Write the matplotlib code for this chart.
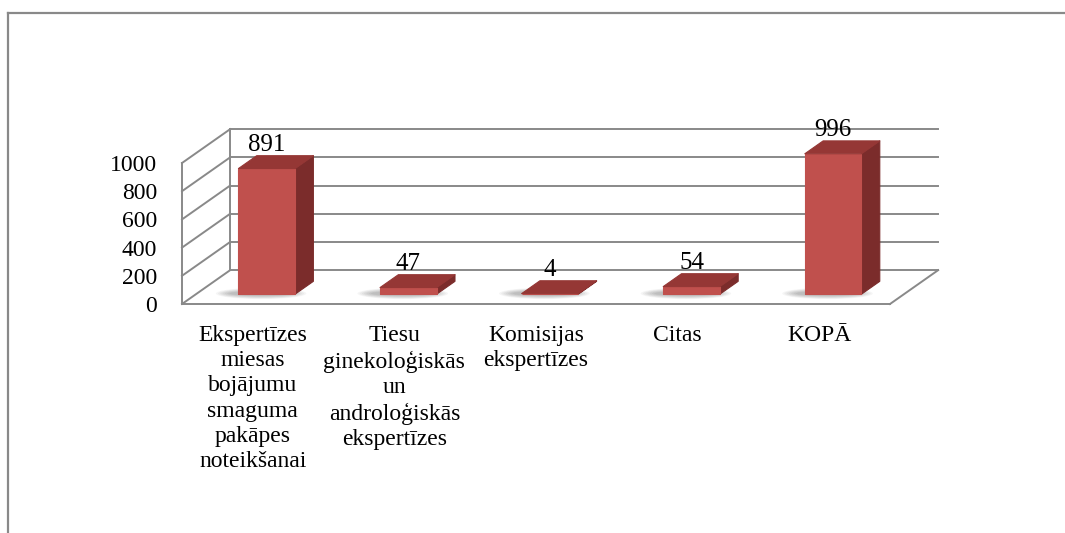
import matplotlib
matplotlib.use("Agg")
import matplotlib.pyplot as plt
from matplotlib.patches import Polygon, Rectangle, Ellipse
from matplotlib.lines import Line2D

# dati
kategorijas = [
    "Ekspertīzes\nmiesas\nbojājumu\nsmaguma\npakāpes\nnoteikšanai",
    "Tiesu\nginekoloģiskās\nun\nandroloģiskās\nekspertīzes",
    "Komisijas\nekspertīzes",
    "Citas",
    "KOPĀ",
]
vertibas = [891, 47, 4, 54, 996]
y_ticks = [0, 200, 400, 600, 800, 1000]

# izskats
FONT = "Liberation Serif"
FS = 17
GRAY = "#898989"
FRONT = "#C0504D"
SIDE = "#7B2C2B"
TOP = "#953735"
DX, DY = 0.34, 240          # "3D" dziļuma nobīde datu vienībās
BAR_W, BAR_OFF, BAR_D = 0.40, 0.29, 0.38

fig = plt.figure(figsize=(10.65, 5.33), dpi=100)
ax = fig.add_axes([182 / 1065, (533 - 304) / 533, 708 / 1065, 141 / 533])
ax.set_xlim(0, 5)
ax.set_ylim(0, 1000)
for s in ax.spines.values():
    s.set_visible(False)
ax.set_facecolor("none")

n = len(vertibas)
ymax = y_ticks[-1]

def line(xs, ys, z=1):
    ax.add_line(Line2D(xs, ys, color=GRAY, lw=1.4, clip_on=False, zorder=z))

# aizmugures siena un kreisā siena
for v in y_ticks:
    line([DX, n + DX], [v + DY, v + DY])
    line([0, DX], [v, v + DY])
line([0, 0], [0, ymax])
line([DX, DX], [DY, ymax + DY])
# grīda
line([0, n], [0, 0])
line([n, n + DX], [0, DY])

# stabiņi
for i, val in enumerate(vertibas):
    x0 = i + 0.5 - BAR_W / 2 + BAR_OFF * DX
    y0 = BAR_OFF * DY
    ddx, ddy = BAR_D * DX, BAR_D * DY
    # ēna
    for k in range(7):
        ax.add_patch(Ellipse((x0 + BAR_W * 0.4, y0 + 5), BAR_W * (1.6 - k * 0.08),
                             80 - k * 8, color="#000000", alpha=0.04,
                             lw=0, clip_on=False, zorder=2))
    ax.add_patch(Rectangle((x0, y0), BAR_W, val, facecolor=FRONT, edgecolor=FRONT,
                           lw=0.8, joinstyle="round", clip_on=False, zorder=4))
    ax.add_patch(Polygon([(x0 + BAR_W, y0), (x0 + BAR_W + ddx, y0 + ddy),
                          (x0 + BAR_W + ddx, y0 + ddy + val), (x0 + BAR_W, y0 + val)],
                         closed=True, facecolor=SIDE, edgecolor=SIDE, lw=0.8,
                         joinstyle="round", clip_on=False, zorder=3))
    ax.add_patch(Polygon([(x0, y0 + val), (x0 + BAR_W, y0 + val),
                          (x0 + BAR_W + ddx, y0 + val + ddy), (x0 + ddx, y0 + val + ddy)],
                         closed=True, facecolor=TOP, edgecolor=TOP, lw=0.8,
                         joinstyle="round", clip_on=False, zorder=5))
    ax.annotate(str(val), (x0 + BAR_W / 2, y0 + val + ddy), xytext=(0, 0),
                textcoords="offset points", ha="center", va="bottom",
                fontsize=18, family=FONT, zorder=6, annotation_clip=False)

ax.set_yticks(y_ticks)
ax.set_yticklabels([str(t) for t in y_ticks], fontsize=FS, family=FONT)
ax.tick_params(axis="y", length=0, pad=18)
ax.set_xticks([i + 0.5 for i in range(n)])
ax.set_xticklabels(kategorijas, fontsize=FS, family=FONT, linespacing=1.27)
ax.tick_params(axis="x", length=0, pad=15)

# diagrammas rāmis
fig.add_artist(Line2D([8 / 1065, 8 / 1065], [0, 1 - 13 / 533], color=GRAY, lw=1.6))
fig.add_artist(Line2D([8 / 1065, 1], [1 - 13 / 533, 1 - 13 / 533], color=GRAY, lw=1.6))

fig.savefig("out.png", dpi=100)
